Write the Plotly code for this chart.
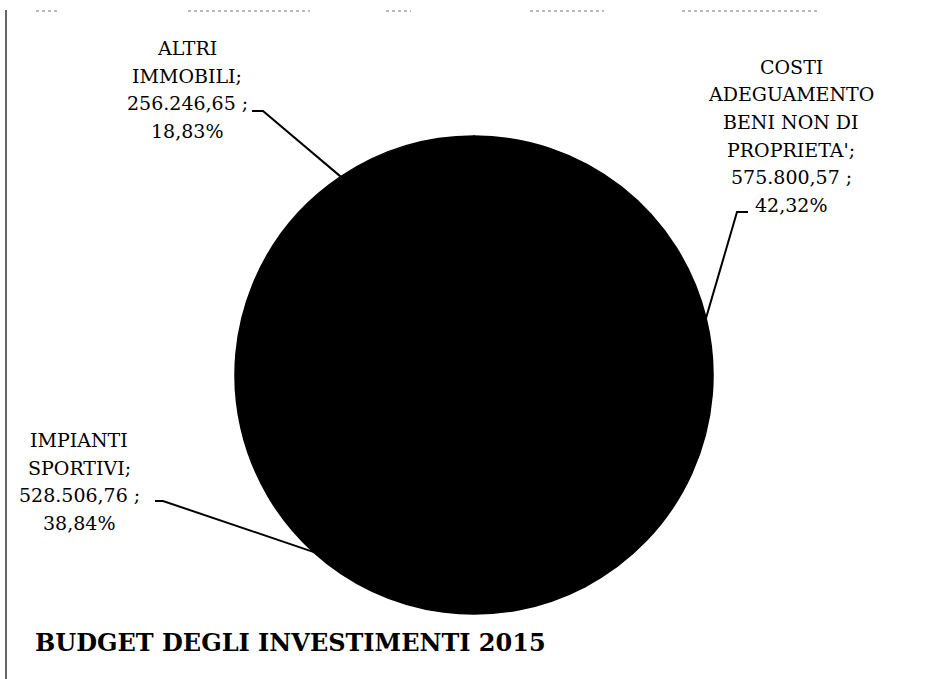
import math
import plotly.graph_objects as go

# Investment budget 2015, amounts in euro
categories = ["COSTI ADEGUAMENTO BENI NON DI PROPRIETA'", "IMPIANTI SPORTIVI", "ALTRI IMMOBILI"]
amounts = [575800.57, 528506.76, 256246.65]
name_lines = [
    ["COSTI", "ADEGUAMENTO", "BENI NON DI", "PROPRIETA';"],
    ["IMPIANTI", "SPORTIVI;"],
    ["ALTRI", "IMMOBILI;"],
]
chart_title = "BUDGET DEGLI INVESTIMENTI 2015"

W, H = 929, 679
CX, CY, R = 474, 375, 239          # pie centre and radius in pixels

# label block placement (centre x, first-line y) and leader elbow (x0, x1, y)
label_pos = [(791, 67), (79, 440), (187, 48)]
elbows = [(748, 737, 212), (155, 163, 501), (252, 263, 111)]
LINE_H = 27.5

FONT = "DejaVu Serif"


def it_num(v):
    s = f"{v:,.2f}"
    return s.replace(",", "X").replace(".", ",").replace("X", ".")


def px(x):
    return x / W


def py(y):
    return 1 - y / H


total = sum(amounts)

fig = go.Figure(go.Pie(
    labels=categories,
    values=amounts,
    sort=False,
    direction="clockwise",
    rotation=0,
    marker=dict(colors=["#000000"] * len(amounts), line=dict(color="#000000", width=1.5)),
    textinfo="none",
    hoverinfo="skip",
    showlegend=False,
    domain=dict(x=[px(CX - R), px(CX + R)], y=[py(CY + R), py(CY - R)]),
))

annotations = []
shapes = []
cum = 0.0
for i, v in enumerate(amounts):
    frac = v / total
    mid = (cum + frac / 2) * 2 * math.pi
    cum += frac
    ex = CX + R * math.sin(mid)
    ey = CY - R * math.cos(mid)

    lines = name_lines[i] + [it_num(v) + " ;", f"{frac * 100:.2f}".replace(".", ",") + "%"]
    lx, ly = label_pos[i]
    for k, t in enumerate(lines):
        annotations.append(dict(
            x=px(lx), y=py(ly + k * LINE_H), xref="paper", yref="paper",
            text=t, showarrow=False, xanchor="center", yanchor="middle",
            font=dict(family=FONT, size=19, color="#000"),
        ))

    x0, x1, yy = elbows[i]
    shapes.append(dict(
        type="path", xref="paper", yref="paper",
        path=f"M {px(x0)},{py(yy)} L {px(x1)},{py(yy)} L {px(ex)},{py(ey)}",
        line=dict(color="#000", width=2),
    ))

annotations.append(dict(
    x=px(33), y=py(642), xref="paper", yref="paper", text=f"<b>{chart_title}</b>",
    showarrow=False, xanchor="left", yanchor="middle",
    font=dict(family=FONT, size=24, color="#000"),
))

# chart-area frame: solid left edge, broken top edge
shapes.append(dict(type="line", xref="paper", yref="paper",
                   x0=px(6), x1=px(6), y0=py(10), y1=py(679),
                   line=dict(color="#333", width=1.5)))
for a, b in [(36, 60), (188, 310), (386, 411), (530, 604), (682, 818)]:
    shapes.append(dict(type="line", xref="paper", yref="paper",
                       x0=px(a), x1=px(b), y0=py(11), y1=py(11),
                       line=dict(color="#777", width=1, dash="dot")))

fig.update_layout(
    width=W, height=H,
    margin=dict(l=0, r=0, t=0, b=0),
    paper_bgcolor="white", plot_bgcolor="white",
    annotations=annotations, shapes=shapes,
)

fig.write_html("out.html")
